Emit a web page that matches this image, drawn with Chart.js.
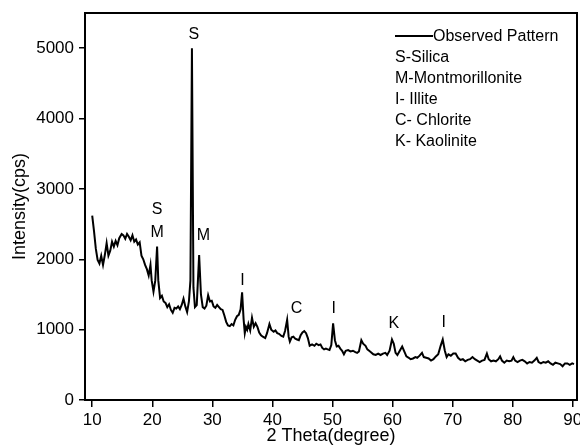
<!DOCTYPE html>
<html>
<head>
<meta charset="utf-8">
<script src="https://cdn.jsdelivr.net/npm/chart.js@4.4.1/dist/chart.umd.min.js"></script>
<style>
    body { margin: 0; background: #fff; }
</style>
</head>
<body>
<canvas id="xrd_chart" width="580" height="445"></canvas>
<script>

// 2 theta (degree) and intensity (cps)
const twoTheta = [
    10.0, 10.3, 10.6, 10.9, 11.2, 11.5, 11.8, 12.1, 12.4, 12.7, 13.0, 13.3, 13.6, 13.9, 14.2, 14.5, 14.9,
    15.2, 15.5, 15.8, 16.1, 16.4, 16.7, 17.0, 17.3, 17.6, 17.9, 18.2, 18.5, 18.8, 19.1, 19.4, 19.7, 19.9,
    20.2, 20.5, 20.8, 21.0, 21.3, 21.6, 21.9, 22.2, 22.5, 22.8, 23.1, 23.4, 23.7, 24.0, 24.3, 24.6, 24.9,
    25.2, 25.5, 25.8, 26.1, 26.35, 26.6, 26.85, 27.1, 27.4, 27.8, 28.1, 28.4, 28.7, 29.0, 29.3, 29.6, 29.9,
    30.2, 30.5, 30.8, 31.1, 31.4, 31.7, 32.0, 32.3, 32.6, 32.9, 33.2, 33.5, 33.8, 34.1, 34.4, 34.7, 34.95,
    35.2, 35.4, 35.6, 35.8, 36.0, 36.3, 36.6, 36.9, 37.2, 37.5, 37.8, 38.1, 38.4, 38.8, 39.1, 39.5, 39.8,
    40.2, 40.5, 40.8, 41.1, 41.5, 41.8, 42.1, 42.45, 42.7, 42.9, 43.2, 43.5, 43.8, 44.1, 44.4, 44.7, 45.0,
    45.3, 45.6, 45.9, 46.2, 46.6, 47.0, 47.3, 47.7, 48.0, 48.3, 48.6, 48.9, 49.2, 49.5, 49.8, 50.1, 50.4,
    50.7, 51.0, 51.3, 51.6, 51.9, 52.2, 52.6, 53.0, 53.4, 53.8, 54.1, 54.4, 54.8, 55.1, 55.5, 55.8, 56.1,
    56.4, 56.8, 57.2, 57.6, 58.0, 58.4, 58.8, 59.1, 59.5, 59.9, 60.2, 60.5, 60.8, 61.2, 61.6, 62.0, 62.3,
    62.7, 63.0, 63.4, 63.8, 64.1, 64.5, 64.9, 65.2, 65.6, 66.0, 66.4, 66.8, 67.2, 67.6, 68.0, 68.35, 68.7,
    69.0, 69.3, 69.7, 70.1, 70.5, 70.9, 71.3, 71.7, 72.1, 72.5, 72.9, 73.3, 73.7, 74.1, 74.5, 74.9, 75.3,
    75.7, 76.0, 76.4, 76.8, 77.2, 77.6, 77.9, 78.2, 78.6, 79.0, 79.4, 79.8, 80.1, 80.4, 80.8, 81.2, 81.6,
    82.0, 82.4, 82.8, 83.2, 83.6, 84.0, 84.3, 84.7, 85.1, 85.5, 85.9, 86.3, 86.7, 87.1, 87.5, 87.9, 88.3,
    88.7, 89.1, 89.5, 89.9, 90.2
];

const intensity = [
    2620, 2400, 2150, 1990, 1940, 2050, 1920, 2060, 2230, 2050, 2120, 2250, 2180, 2260, 2200, 2300, 2360,
    2340, 2290, 2360, 2320, 2270, 2340, 2250, 2280, 2210, 2240, 2050, 2000, 1920, 1860, 1770, 1920, 1700,
    1540, 1700, 2180, 1700, 1450, 1480, 1400, 1380, 1320, 1360, 1280, 1240, 1310, 1300, 1330, 1290, 1350,
    1440, 1330, 1250, 1400, 1700, 5000, 1600, 1320, 1350, 2060, 1500, 1320, 1300, 1340, 1490, 1400, 1410,
    1330, 1310, 1350, 1320, 1290, 1280, 1200, 1110, 1060, 1050, 1080, 1060, 1140, 1190, 1210, 1290, 1530,
    1150, 950, 1040, 1000, 1080, 990, 1170, 1040, 1090, 1040, 960, 920, 900, 880, 950, 1080, 1000,
    970, 990, 950, 940, 910, 900, 980, 1140, 900, 830, 890, 900, 870, 860, 850, 920, 960,
    980, 950, 880, 770, 790, 770, 800, 780, 790, 740, 720, 730, 720, 710, 780, 1090, 850,
    760, 770, 730, 700, 650, 700, 710, 690, 700, 680, 670, 690, 850, 800, 770, 720, 700,
    680, 650, 640, 660, 640, 660, 670, 640, 700, 860, 800, 670, 640, 700, 760, 680, 620,
    600, 580, 590, 610, 600, 630, 670, 610, 600, 590, 560, 580, 620, 650, 770, 860, 700,
    610, 650, 630, 660, 660, 600, 570, 580, 550, 570, 580, 610, 580, 560, 540, 560, 570,
    660, 580, 550, 560, 550, 580, 620, 560, 530, 560, 550, 560, 610, 560, 540, 560, 570,
    550, 520, 540, 530, 560, 600, 540, 520, 540, 530, 550, 520, 500, 530, 520, 510, 480,
    520, 520, 500, 520, 510
];

// phase labels over the peaks
const peakText = ['S', 'S', 'M', 'M', 'I', 'C', 'I', 'K', 'I'];
const peakX = [26.9, 20.8, 20.8, 28.5, 35.0, 44.0, 50.2, 60.2, 68.5];
const peakY = [5200, 2700, 2385, 2343, 1704, 1292, 1292, 1080, 1093];

const legendNotes = ['S-Silica', 'M-Montmorillonite', 'I- Illite', 'C- Chlorite', 'K- Kaolinite'];

const xTicks = [10, 20, 30, 40, 50, 60, 70, 80, 90];
const yTicks = [0, 1000, 2000, 3000, 4000, 5000];

const FONT = '"Liberation Sans", Arial, sans-serif';

function xrd_chart() {

    const points = twoTheta.map((t, i) => ({ x: t, y: intensity[i] }));

    // box round the plot, phase letters and the legend block
    const decorations = {
        id: 'decorations',
        afterDraw(chart) {
            const ctx = chart.ctx;
            const area = chart.chartArea;
            const xs = chart.scales.x;
            const ys = chart.scales.y;

            ctx.save();
            ctx.strokeStyle = '#000';
            ctx.lineWidth = 2;
            ctx.strokeRect(area.left, area.top, area.right - area.left, area.bottom - area.top);

            ctx.fillStyle = '#000';
            ctx.font = '16px ' + FONT;
            ctx.textAlign = 'center';
            ctx.textBaseline = 'middle';
            peakText.forEach((t, i) => {
                ctx.fillText(t, xs.getPixelForValue(peakX[i]), ys.getPixelForValue(peakY[i]));
            });

            // legend
            ctx.font = '16px ' + FONT;
            ctx.textAlign = 'left';
            ctx.lineWidth = 2;
            ctx.beginPath();
            ctx.moveTo(395, 36);
            ctx.lineTo(433, 36);
            ctx.stroke();
            ctx.fillText(chart.data.datasets[0].label, 433, 37);
            legendNotes.forEach((t, i) => {
                ctx.fillText(t, 395, 58 + i * 21);
            });
            ctx.restore();
        }
    };

    // fixed axis sizes, no extra room for overhanging labels
    const fixX = (s) => { s.height = 45; s.paddingLeft = 0; s.paddingRight = 0; };
    const fixY = (s) => { s.width = 85; s.paddingTop = 0; s.paddingBottom = 0; };

    const config = {
        type: 'line',
        data: {
            datasets: [{
                label: 'Observed Pattern',
                data: points,
                borderColor: '#000',
                borderWidth: 2,
                pointRadius: 0,
                tension: 0,
                fill: false
            }]
        },
        options: {
            responsive: false,
            animation: false,
            layout: { padding: { left: 0, right: 3, top: 13, bottom: 0 } },
            plugins: {
                legend: { display: false },
                tooltip: { enabled: false }
            },
            scales: {
                x: {
                    type: 'linear',
                    min: 8.8,
                    max: 90.7,
                    afterFit: fixX,
                    afterBuildTicks: (s) => { s.ticks = xTicks.map(v => ({ value: v })); },
                    border: { color: '#000', width: 2 },
                    grid: { drawOnChartArea: false, color: '#000', lineWidth: 1.5, tickLength: 7 },
                    ticks: {
                        color: '#000',
                        font: { family: FONT, size: 17 },
                        padding: 3,
                        maxRotation: 0,
                        autoSkip: false,
                        callback: (v) => String(v)
                    },
                    title: {
                        display: true,
                        text: '2 Theta(degree)',
                        color: '#000',
                        font: { family: FONT, size: 18, lineHeight: 1 },
                        padding: { top: 0, bottom: 0 }
                    }
                },
                y: {
                    min: 0,
                    max: 5500,
                    afterFit: fixY,
                    afterBuildTicks: (s) => { s.ticks = yTicks.map(v => ({ value: v })); },
                    border: { color: '#000', width: 2 },
                    grid: { drawOnChartArea: false, color: '#000', lineWidth: 1.5, tickLength: 6 },
                    ticks: {
                        color: '#000',
                        font: { family: FONT, size: 17 },
                        padding: 5,
                        callback: (v) => String(v)
                    },
                    title: {
                        display: true,
                        text: 'Intensity(cps)',
                        color: '#000',
                        font: { family: FONT, size: 18, lineHeight: 1 },
                        padding: { top: 11, bottom: 0 }
                    }
                }
            }
        },
        plugins: [decorations]
    };

    const myChart = new Chart(document.getElementById('xrd_chart'), config);
}

xrd_chart();

</script>
</body>
</html>
